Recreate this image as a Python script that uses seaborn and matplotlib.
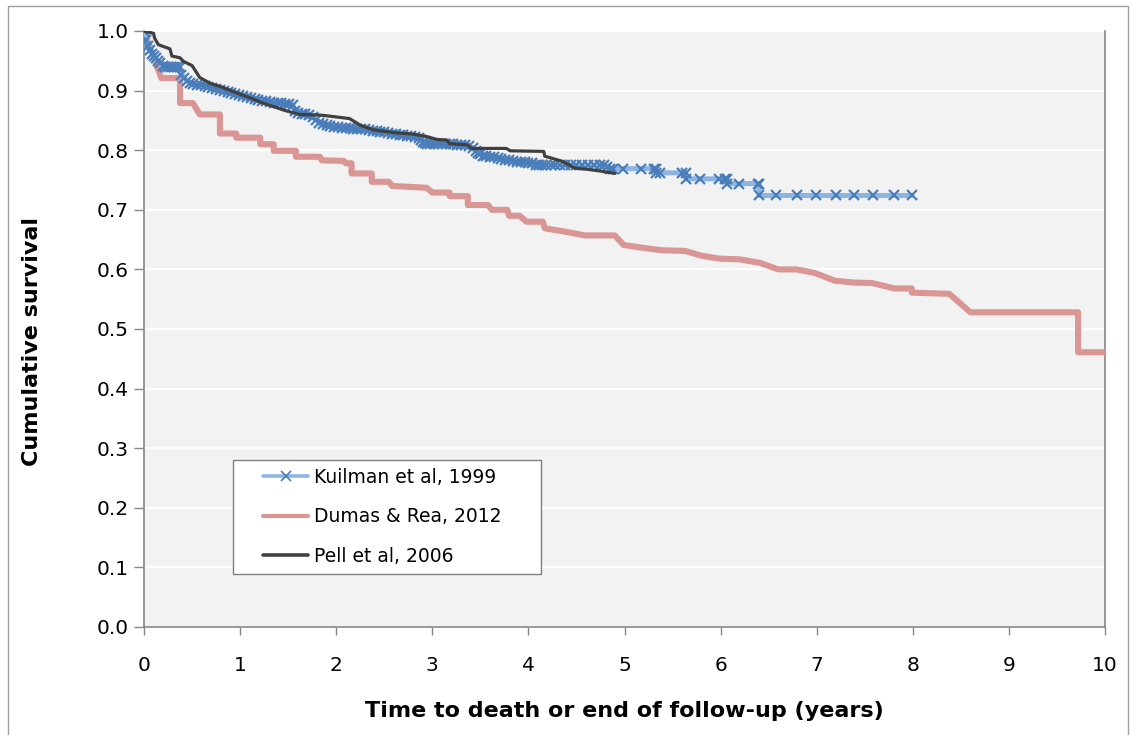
import matplotlib
matplotlib.use("Agg")
import matplotlib.pyplot as plt
import seaborn as sns
import pandas as pd
from matplotlib.lines import Line2D
from matplotlib.patches import Rectangle

# ---------------- data ----------------
series_names = ["Kuilman et al, 1999", "Dumas & Rea, 2012", "Pell et al, 2006"]

kuilman_t = [0.00, 0.02, 0.04, 0.06, 0.08, 0.10, 0.12, 0.15, 0.17, 0.20, 0.22, 0.25, 0.28, 0.31,
             0.34, 0.37, 0.39, 0.42, 0.45, 0.48, 0.51, 0.55, 0.59, 0.63, 0.67, 0.71, 0.75, 0.79,
             0.83, 0.87, 0.91, 0.95, 0.99, 1.03, 1.07, 1.11, 1.15, 1.19, 1.23, 1.27, 1.31, 1.35,
             1.39, 1.43, 1.47, 1.51, 1.55, 1.57, 1.60, 1.64, 1.68, 1.72, 1.76, 1.79, 1.82, 1.86,
             1.90, 1.94, 1.98, 2.02, 2.06, 2.10, 2.14, 2.18, 2.22, 2.26, 2.30, 2.34, 2.38, 2.42,
             2.46, 2.50, 2.54, 2.58, 2.62, 2.66, 2.70, 2.74, 2.78, 2.82, 2.86, 2.88, 2.90, 2.92,
             2.95, 2.98, 3.02, 3.06, 3.10, 3.14, 3.18, 3.22, 3.26, 3.30, 3.34, 3.38, 3.42, 3.45,
             3.48, 3.50, 3.53, 3.56, 3.60, 3.64, 3.68, 3.72, 3.76, 3.80, 3.84, 3.88, 3.92, 3.96,
             4.00, 4.04, 4.08, 4.11, 4.14, 4.18, 4.23, 4.28, 4.33, 4.38, 4.44, 4.50, 4.56, 4.62,
             4.68, 4.74, 4.79, 4.82, 4.85, 4.88, 4.98, 5.17, 5.31, 5.33, 5.33, 5.37, 5.60, 5.64,
             5.64, 5.79, 5.98, 6.05, 6.07, 6.07, 6.19, 6.39, 6.40, 6.40, 6.58, 6.79, 6.99, 7.20,
             7.39, 7.59, 7.80, 7.99]
kuilman_s = [1.000, 0.985, 0.975, 0.968, 0.962, 0.958, 0.954, 0.950, 0.946, 0.941, 0.940, 0.940, 0.940, 0.940,
             0.940, 0.940, 0.927, 0.921, 0.916, 0.912, 0.911, 0.910, 0.909, 0.908, 0.906, 0.905, 0.903, 0.901,
             0.899, 0.897, 0.896, 0.894, 0.893, 0.891, 0.890, 0.888, 0.886, 0.884, 0.883, 0.882, 0.881, 0.880,
             0.880, 0.879, 0.878, 0.877, 0.876, 0.866, 0.862, 0.861, 0.860, 0.859, 0.856, 0.851, 0.846, 0.844,
             0.842, 0.840, 0.839, 0.839, 0.838, 0.837, 0.837, 0.836, 0.836, 0.835, 0.835, 0.834, 0.833, 0.832,
             0.831, 0.830, 0.829, 0.828, 0.827, 0.826, 0.825, 0.824, 0.823, 0.822, 0.821, 0.817, 0.814, 0.812,
             0.811, 0.811, 0.811, 0.811, 0.810, 0.810, 0.810, 0.810, 0.809, 0.809, 0.808, 0.807, 0.804, 0.799,
             0.795, 0.793, 0.791, 0.790, 0.789, 0.788, 0.787, 0.786, 0.784, 0.783, 0.782, 0.781, 0.781, 0.780,
             0.779, 0.778, 0.776, 0.775, 0.775, 0.775, 0.775, 0.775, 0.775, 0.775, 0.775, 0.775, 0.775, 0.775,
             0.775, 0.775, 0.775, 0.772, 0.769, 0.769, 0.769, 0.769, 0.769, 0.769, 0.762, 0.762, 0.762, 0.762,
             0.752, 0.752, 0.752, 0.752, 0.752, 0.744, 0.744, 0.744, 0.744, 0.724, 0.724, 0.724, 0.724, 0.724,
             0.724, 0.724, 0.724, 0.724]

dumas_t = [0.00, 0.18, 0.375, 0.375, 0.51, 0.58, 0.79, 0.79, 0.96, 0.96, 1.21, 1.21, 1.35, 1.35,
           1.58, 1.58, 1.83, 1.85, 2.08, 2.10, 2.16, 2.16, 2.37, 2.37, 2.55, 2.58, 2.94, 3.00,
           3.18, 3.18, 3.37, 3.37, 3.58, 3.62, 3.78, 3.80, 3.91, 3.98, 4.15, 4.17, 4.36, 4.59,
           4.90, 4.99, 5.20, 5.40, 5.63, 5.80, 5.99, 6.19, 6.41, 6.60, 6.79, 6.98, 7.19, 7.38,
           7.58, 7.81, 7.99, 7.99, 8.38, 8.60, 9.72, 9.72, 10.00]
dumas_s = [1.000, 0.921, 0.921, 0.879, 0.879, 0.860, 0.860, 0.828, 0.828, 0.821, 0.821, 0.810, 0.810, 0.799,
           0.799, 0.789, 0.789, 0.783, 0.782, 0.778, 0.778, 0.761, 0.761, 0.747, 0.747, 0.740, 0.737, 0.729,
           0.729, 0.723, 0.723, 0.708, 0.708, 0.700, 0.700, 0.690, 0.690, 0.680, 0.680, 0.669, 0.664, 0.657,
           0.657, 0.641, 0.636, 0.632, 0.631, 0.623, 0.618, 0.617, 0.611, 0.600, 0.600, 0.594, 0.581, 0.578,
           0.577, 0.568, 0.568, 0.561, 0.559, 0.528, 0.528, 0.461, 0.461]

pell_t = [0.00, 0.10, 0.11, 0.15, 0.27, 0.29, 0.375, 0.41, 0.50, 0.58, 0.69, 0.79, 0.89, 1.00,
          1.10, 1.24, 1.35, 1.48, 1.62, 1.83, 1.94, 2.04, 2.14, 2.25, 2.39, 2.63, 2.80, 2.94,
          3.05, 3.15, 3.18, 3.36, 3.41, 3.77, 3.81, 4.16, 4.17, 4.36, 4.48, 4.61, 4.75, 4.90]
pell_s = [1.000, 0.996, 0.988, 0.977, 0.970, 0.958, 0.955, 0.949, 0.942, 0.922, 0.912, 0.907, 0.901, 0.894,
          0.888, 0.879, 0.873, 0.866, 0.860, 0.859, 0.857, 0.855, 0.853, 0.842, 0.834, 0.829, 0.827, 0.823,
          0.818, 0.817, 0.811, 0.809, 0.803, 0.803, 0.799, 0.798, 0.790, 0.781, 0.770, 0.768, 0.765, 0.761]

x_ticks = [0, 1, 2, 3, 4, 5, 6, 7, 8, 9, 10]
y_ticks = [0.0, 0.1, 0.2, 0.3, 0.4, 0.5, 0.6, 0.7, 0.8, 0.9, 1.0]

# ---------------- styling ----------------
sns.set_theme(style="white")
plt.rcParams["font.family"] = ["DejaVu Sans"]
plt.rcParams["text.color"] = "black"
plt.rcParams["axes.labelcolor"] = "black"

c_kuil_line = "#8EB4E3"
c_kuil_mark = "#4A7EBB"
c_dumas = "#D99694"
c_pell = "#404040"
c_spine = "#868686"

fig = plt.figure(figsize=(11.31, 7.35), dpi=100)
ax = fig.add_axes([144 / 1131, 108 / 735, 961 / 1131, 596 / 735])
ax.set_facecolor("#F2F2F2")

df_k = pd.DataFrame({"t": kuilman_t, "s": kuilman_s})
df_d = pd.DataFrame({"t": dumas_t, "s": dumas_s})
df_p = pd.DataFrame({"t": pell_t, "s": pell_s})

sns.lineplot(data=df_d, x="t", y="s", ax=ax, sort=False, estimator=None,
             color=c_dumas, linewidth=4.4, zorder=3)
sns.lineplot(data=df_k, x="t", y="s", ax=ax, sort=False, estimator=None,
             color=c_kuil_line, linewidth=3.6, marker="x", markersize=7.5,
             markeredgecolor=c_kuil_mark, markeredgewidth=1.6, zorder=4)
sns.lineplot(data=df_p, x="t", y="s", ax=ax, sort=False, estimator=None,
             color=c_pell, linewidth=2.3, zorder=5)

ax.set_xlim(0, 10)
ax.set_ylim(0, 1.0)
ax.set_xticks(x_ticks)
ax.set_xticklabels([str(v) for v in x_ticks])
ax.set_yticks(y_ticks)
ax.set_yticklabels([f"{v:.1f}" for v in y_ticks])

ax.grid(axis="y", color="white", linewidth=1.6, zorder=0)
ax.grid(axis="x", visible=False)
ax.set_axisbelow(True)

for side in ["left", "bottom", "right"]:
    ax.spines[side].set_visible(True)
    ax.spines[side].set_color(c_spine)
    ax.spines[side].set_linewidth(1.2)
ax.spines["top"].set_visible(False)

ax.tick_params(axis="x", which="major", direction="out", length=6, width=1,
               color=c_spine, pad=15, labelsize=14.5, labelcolor="black", bottom=True)
ax.tick_params(axis="y", which="major", direction="out", length=7, width=1,
               color=c_spine, pad=4, labelsize=14.5, labelcolor="black", left=True)

ax.set_xlabel("Time to death or end of follow-up (years)", fontsize=16,
              fontweight="bold", color="black")
ax.set_ylabel("Cumulative survival", fontsize=16, fontweight="bold", color="black")
ax.xaxis.set_label_coords(0.5, (627 - 701) / 596)
ax.yaxis.set_label_coords((42 - 144) / 961, (627 - 341) / 596)

# legend box and entries
rect = Rectangle(((233 - 144) / 961, (627 - 574) / 596), (541 - 233) / 961, (574 - 460) / 596,
                 transform=ax.transAxes, facecolor="white", edgecolor="#7F7F7F",
                 linewidth=1.0, zorder=6, clip_on=False)
ax.add_patch(rect)

handles = [
    Line2D([], [], color=c_kuil_line, linewidth=2.6, marker="x", markersize=6.5,
           markeredgecolor=c_kuil_mark, markeredgewidth=1.2),
    Line2D([], [], color=c_dumas, linewidth=3.0),
    Line2D([], [], color=c_pell, linewidth=2.6),
]
leg = ax.legend(handles, series_names, loc="upper left",
                bbox_to_anchor=((263 - 144) / 961, (627 - 468) / 596),
                frameon=False, borderpad=0, borderaxespad=0, handlelength=2.4,
                handletextpad=0.3, labelspacing=1.08, fontsize=13.5, numpoints=1)
for t in leg.get_texts():
    t.set_color("black")
leg.set_zorder(7)

# thin figure border
border = Rectangle((8 / 1131, -0.01), (1128 - 8) / 1131, (735 - 6) / 735 + 0.01,
                   transform=fig.transFigure, facecolor="none", edgecolor="#A0A0A0",
                   linewidth=1.0, zorder=0)
fig.patches.append(border)

fig.savefig("out.png", dpi=100, facecolor="white")
